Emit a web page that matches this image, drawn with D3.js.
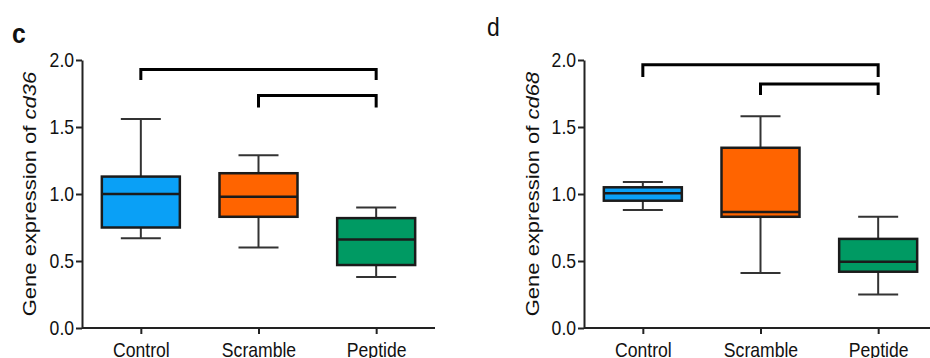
<!DOCTYPE html>
<html>
<head>
<meta charset="utf-8">
<script src="https://cdn.jsdelivr.net/npm/d3@7/dist/d3.min.js"></script>
<style>
  html, body { margin: 0; padding: 0; background: #fff; }
  svg { display: block; }
  text { font-family: "Liberation Sans", Arial, sans-serif; fill: #111; }
</style>
</head>
<body>
<svg id="chart" width="930" height="358"></svg>
<script>
// Groups on the x axis
const categories = ["Control", "Scramble", "Peptide"];
const groupColors = ["#0aa0f6", "#ff6400", "#009a63"];
const yTicks = [0, 0.5, 1.0, 1.5, 2.0];

// cd36 box-plot summary per group
const cd36Min    = [0.67, 0.60, 0.38];
const cd36Q1     = [0.75, 0.83, 0.47];
const cd36Median = [1.00, 0.98, 0.66];
const cd36Q3     = [1.13, 1.155, 0.82];
const cd36Max    = [1.56, 1.29, 0.90];

// cd68 box-plot summary per group
const cd68Min    = [0.88, 0.41, 0.25];
const cd68Q1     = [0.95, 0.83, 0.42];
const cd68Median = [1.005, 0.865, 0.495];
const cd68Q3     = [1.05, 1.345, 0.665];
const cd68Max    = [1.09, 1.58, 0.83];

// Significance brackets: groups joined, bar level and leg end (data units)
const cd36BracketFrom = ["Control", "Scramble"];
const cd36BracketTo   = ["Peptide", "Peptide"];
const cd36BracketTop  = [1.93, 1.735];
const cd36BracketLeg  = [1.85, 1.645];

const cd68BracketFrom = ["Control", "Scramble"];
const cd68BracketTo   = ["Peptide", "Peptide"];
const cd68BracketTop  = [1.965, 1.82];
const cd68BracketLeg  = [1.873, 1.739];

const svg = d3.select("#chart");
const SX = 0.88; // horizontal squeeze of the glyphs

function drawPanel(opt) {
  const g = svg.append("g");
  const y = d3.scaleLinear().domain([0, 2]).range([328, 60]);
  const x = d3.scalePoint().domain(categories).range([opt.x0, opt.x0 + 353]).padding(0.5);
  const boxW = 78, capW = 40;

  // y axis
  const yAxis = g.append("g")
    .attr("transform", `translate(${opt.x0},0)`)
    .call(d3.axisLeft(y).tickValues(yTicks).tickFormat(d3.format(".1f"))
      .tickSize(6).tickSizeOuter(0).tickPadding(3));
  yAxis.select(".domain").attr("stroke", "#222").attr("stroke-width", 2);
  yAxis.selectAll(".tick line").attr("stroke", "#222").attr("stroke-width", 2);
  yAxis.selectAll(".tick text")
    .attr("font-size", 20).attr("fill", "#111")
    .attr("font-family", "Liberation Sans, Arial, sans-serif")
    .attr("transform", `scale(${SX},1)`);

  // x axis
  const xAxis = g.append("g")
    .attr("transform", "translate(0,328)")
    .call(d3.axisBottom(x).tickSize(6).tickSizeOuter(0).tickPadding(9));
  xAxis.select(".domain").attr("stroke", "#222").attr("stroke-width", 2)
    .attr("d", `M${opt.x0},0H${opt.xEnd}`);
  xAxis.selectAll(".tick line").attr("stroke", "#222").attr("stroke-width", 2);
  xAxis.selectAll(".tick text")
    .attr("font-size", 20).attr("fill", "#111")
    .attr("font-family", "Liberation Sans, Arial, sans-serif")
    .attr("transform", `scale(${SX},1)`);

  // y axis title with italic gene name
  const title = g.append("text")
    .attr("transform", `translate(${opt.titleX},194) rotate(-90) scale(1,0.85)`)
    .attr("text-anchor", "middle")
    .attr("font-size", 22);
  title.append("tspan").text("Gene expression of ");
  title.append("tspan").attr("font-style", "italic").text(opt.gene);

  // panel letter
  g.append("text")
    .attr("transform", `translate(${opt.letterX},${opt.letterY}) scale(${SX},1)`)
    .attr("font-size", opt.letterSize)
    .attr("font-weight", opt.letterWeight)
    .text(opt.letter);

  const idx = d3.range(categories.length);

  // whiskers
  g.selectAll(".whisker").data(idx).join("line")
    .attr("x1", i => x(categories[i])).attr("x2", i => x(categories[i]))
    .attr("y1", i => y(opt.max[i])).attr("y2", i => y(opt.min[i]))
    .attr("stroke", "#333").attr("stroke-width", 2);
  [opt.max, opt.min].forEach(arr => {
    g.selectAll(null).data(idx).join("line")
      .attr("x1", i => x(categories[i]) - capW / 2).attr("x2", i => x(categories[i]) + capW / 2)
      .attr("y1", i => y(arr[i])).attr("y2", i => y(arr[i]))
      .attr("stroke", "#333").attr("stroke-width", 2);
  });

  // boxes
  g.selectAll(".box").data(idx).join("rect")
    .attr("x", i => x(categories[i]) - boxW / 2)
    .attr("width", boxW)
    .attr("y", i => y(opt.q3[i]))
    .attr("height", i => y(opt.q1[i]) - y(opt.q3[i]))
    .attr("fill", i => groupColors[i])
    .attr("stroke", "#1b1b1b").attr("stroke-width", 2.5);

  // medians
  g.selectAll(".median").data(idx).join("line")
    .attr("x1", i => x(categories[i]) - boxW / 2).attr("x2", i => x(categories[i]) + boxW / 2)
    .attr("y1", i => y(opt.median[i])).attr("y2", i => y(opt.median[i]))
    .attr("stroke", "#1b1b1b").attr("stroke-width", 2.5);

  // significance brackets
  g.selectAll(".bracket").data(d3.range(opt.bFrom.length)).join("path")
    .attr("d", i => {
      const xa = x(opt.bFrom[i]), xb = x(opt.bTo[i]);
      return `M${xa},${y(opt.bLeg[i])}V${y(opt.bTop[i])}H${xb}V${y(opt.bLeg[i])}`;
    })
    .attr("fill", "none").attr("stroke", "#000").attr("stroke-width", 3);
}

drawPanel({
  x0: 82, xEnd: 435, titleX: 36, gene: "cd36",
  letter: "c", letterX: 12, letterY: 43, letterSize: 28, letterWeight: "bold",
  min: cd36Min, q1: cd36Q1, median: cd36Median, q3: cd36Q3, max: cd36Max,
  bFrom: cd36BracketFrom, bTo: cd36BracketTo, bTop: cd36BracketTop, bLeg: cd36BracketLeg
});

drawPanel({
  x0: 584, xEnd: 930, titleX: 539, gene: "cd68",
  letter: "d", letterX: 487, letterY: 36, letterSize: 26, letterWeight: "normal",
  min: cd68Min, q1: cd68Q1, median: cd68Median, q3: cd68Q3, max: cd68Max,
  bFrom: cd68BracketFrom, bTo: cd68BracketTo, bTop: cd68BracketTop, bLeg: cd68BracketLeg
});
</script>
</body>
</html>
